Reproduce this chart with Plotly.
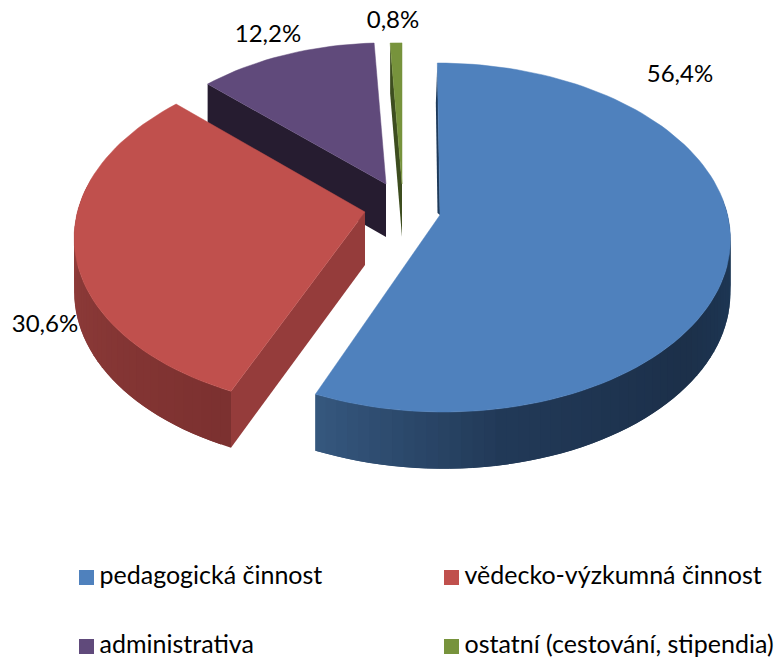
import math
import plotly.graph_objects as go

categories = ["pedagogická činnost", "vědecko-výzkumná činnost", "administrativa", "ostatní (cestování, stipendia)"]
values = [56.4, 30.6, 12.2, 0.8]
labels = ["56,4%", "30,6%", "12,2%", "0,8%"]
top_colors = ["#4f81bd", "#c0504d", "#604a7b", "#77933c"]
cut_colors = ["#1e3a5a", "#953c3b", "#261c30", "#3d4d1f"]
# exploded slice apex, radius scale and shear (perspective)
apex_x = [440, 365, 386, 402]
apex_y = [215, 212, 184, 184]
scale = [1.0, 1.0, 0.92, 0.92]
shear = [-3.0, 6.0, 0.0, 0.0]
# wall gradient stops along each slice (degrees from the slice start)
wall_stops = [
    [(0, "#17304d"), (90, "#1e3a5a"), (130, "#1c304a"), (170, "#223a58"), (203, "#36587f")],
    [(0, "#7c3130"), (60, "#8f3c3a"), (100, "#a34644")],
    [(0, "#32284a"), (1, "#32284a")],
    [(0, "#3d4d1f"), (1, "#3d4d1f")],
]
label_x = [680, 45, 268, 393]
label_y = [76, 326, 36, 22]
legend_x = [86.5, 451.5, 86.5, 451.5]
legend_y = [577.5, 577.5, 646.5, 646.5]

A, B, K, D = 287.6, 171.6, 0.129, 53.0


def hex2rgb(h):
    return tuple(int(h[i:i + 2], 16) for i in (1, 3, 5))


def lerp(stops, t):
    for (a, ca), (b, cb) in zip(stops, stops[1:]):
        if t <= b:
            f = (t - a) / (b - a)
            x, y = hex2rgb(ca), hex2rgb(cb)
            return "rgb(%d,%d,%d)" % tuple(x[i] + (y[i] - x[i]) * f for i in range(3))
    return stops[-1][1]


def rim(theta, i):
    th = math.radians(theta)
    u, v = math.sin(th) * scale[i], math.cos(th) * scale[i]
    w = 1 + K * v
    return apex_x[i] + (A * u + shear[i] * v) / w, apex_y[i] - B * v / w, w


def poly(fig, pts, color, lw=0.0):
    xs = [p[0] for p in pts] + [pts[0][0]]
    ys = [p[1] for p in pts] + [pts[0][1]]
    fig.add_trace(go.Scatter(x=xs, y=ys, mode="lines", fill="toself", fillcolor=color,
                             line=dict(color=color, width=lw), hoverinfo="skip", showlegend=False))


fig = go.Figure()
total = sum(values)
starts = []
acc = 0.0
for v in values:
    starts.append(acc / total * 360)
    acc += v

for i in [3, 2, 1, 0]:
    a0 = starts[i]
    a1 = a0 + values[i] / total * 360
    ax, ay = apex_x[i], apex_y[i]
    n = max(int((a1 - a0) / 2), 2)
    step = (a1 - a0) / n
    angles = [a0 + step * k for k in range(n + 1)]

    # outer wall: overlapping quads so no seams appear (painted from the far end)
    if i in (0, 1):
        order = list(zip(angles, angles[1:]))
        if i == 0:
            order = [s for s in order if (s[0] + s[1]) / 2 >= 85]
        else:
            order = [s for s in order if (s[0] + s[1]) / 2 <= 280]
        for a, b in order:
            p, q = rim(a, i), rim(min(b + step, a1), i)
            col = lerp(wall_stops[i], (a + b) / 2 - a0)
            poly(fig, [(p[0], p[1]), (q[0], q[1]),
                       (q[0], q[1] + D / q[2] ** 0.5), (p[0], p[1] + D / p[2] ** 0.5)], col)

    # visible cut face
    p = rim(a0, i)
    if i == 0:
        poly(fig, [(p[0], p[1]), (ax, ay), (ax - 2.5, ay - 2), (p[0] - 1.5, p[1] + 40)], cut_colors[i])
    else:
        poly(fig, [(ax, ay), (p[0], p[1]), (p[0], p[1] + D / p[2] ** 0.5), (ax, ay + D)], cut_colors[i])

    # top face
    poly(fig, [(ax, ay)] + [rim(a, i)[:2] for a in angles], top_colors[i], 0.5)

# percentage labels
fig.add_trace(go.Scatter(x=label_x, y=label_y, mode="text", text=labels,
                         textfont=dict(family="Lato", size=24, color="#000000"),
                         textposition="middle center", hoverinfo="skip", showlegend=False))

# legend
fig.add_trace(go.Scatter(x=legend_x, y=legend_y, mode="markers",
                         marker=dict(symbol="square", size=15, color=top_colors, line=dict(width=0)),
                         hoverinfo="skip", showlegend=False))
fig.add_trace(go.Scatter(x=[x + 13 for x in legend_x], y=legend_y, mode="text", text=categories,
                         textfont=dict(family="Lato", size=25, color="#000000"),
                         textposition="middle right", hoverinfo="skip", showlegend=False))

fig.update_layout(width=784, height=660, margin=dict(l=0, r=0, t=0, b=0),
                  paper_bgcolor="white", plot_bgcolor="white", showlegend=False,
                  xaxis=dict(range=[0, 784], visible=False, fixedrange=True),
                  yaxis=dict(range=[660, 0], visible=False, fixedrange=True))
fig.write_html("out.html", config={"displayModeBar": False},
               post_script="document.body.style.margin='0';")
